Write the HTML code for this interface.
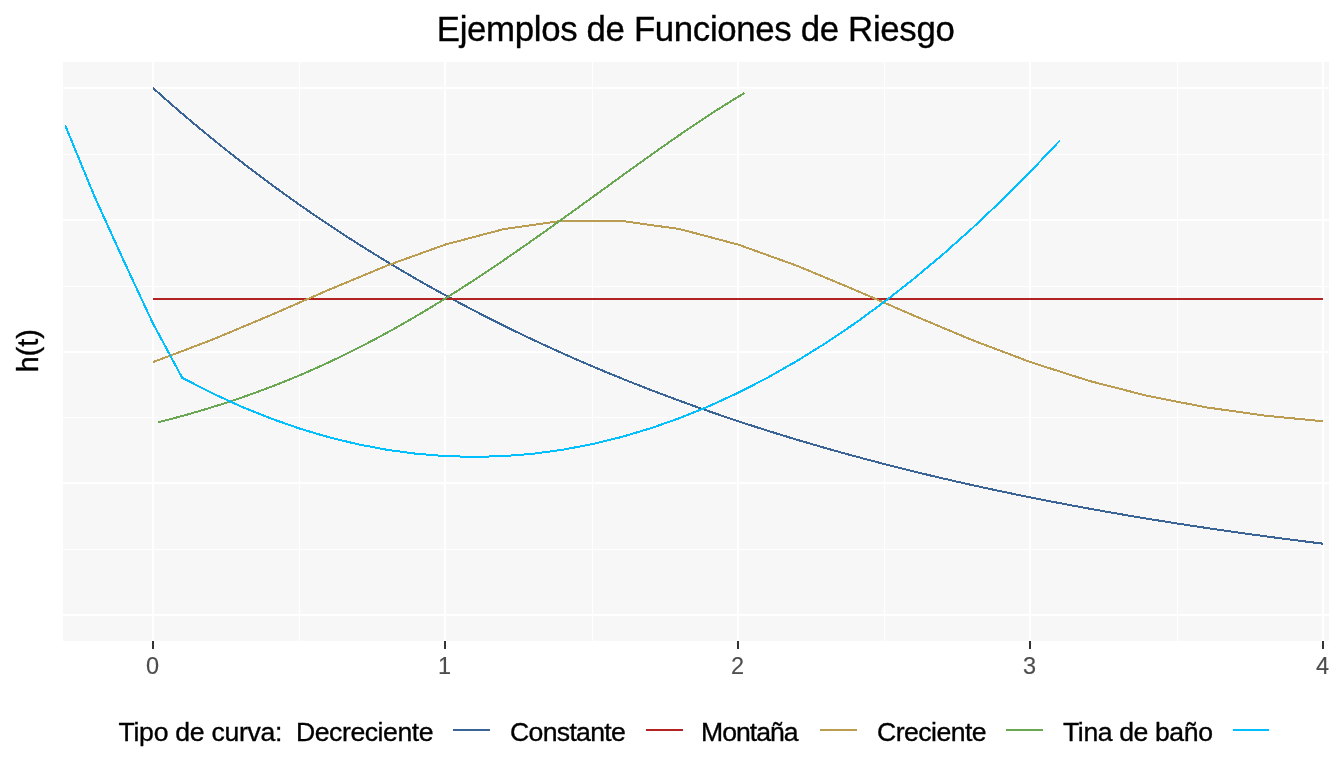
<!DOCTYPE html>
<html lang="es"><head><meta charset="utf-8"><title>Ejemplos de Funciones de Riesgo</title>
<style>
html,body{margin:0;padding:0;background:#fff;width:1344px;height:768px;overflow:hidden}
svg{display:block}
text{font-family:"Liberation Sans",Arial,sans-serif;stroke:currentColor;stroke-width:0.35px}
</style></head>
<body>
<svg width="1344" height="768" viewBox="0 0 1344 768">
<rect x="0" y="0" width="1344" height="768" fill="#FFFFFF"/>
<rect x="63" y="62" width="1266" height="579" fill="#F7F7F7"/>
<g shape-rendering="crispEdges">
<rect x="299" y="62" width="1" height="579" fill="#FFFFFF"/>
<rect x="592" y="62" width="1" height="579" fill="#FFFFFF"/>
<rect x="884" y="62" width="1" height="579" fill="#FFFFFF"/>
<rect x="1177" y="62" width="1" height="579" fill="#FFFFFF"/>
<rect x="63" y="154" width="1266" height="1" fill="#FFFFFF"/>
<rect x="63" y="286" width="1266" height="1" fill="#FFFFFF"/>
<rect x="63" y="417" width="1266" height="1" fill="#FFFFFF"/>
<rect x="63" y="549" width="1266" height="1" fill="#FFFFFF"/>
<rect x="152" y="62" width="2" height="579" fill="#FFFFFF"/>
<rect x="444" y="62" width="2" height="579" fill="#FFFFFF"/>
<rect x="737" y="62" width="2" height="579" fill="#FFFFFF"/>
<rect x="1029" y="62" width="2" height="579" fill="#FFFFFF"/>
<rect x="1322" y="62" width="2" height="579" fill="#FFFFFF"/>
<rect x="63" y="87" width="1266" height="2" fill="#FFFFFF"/>
<rect x="63" y="219" width="1266" height="2" fill="#FFFFFF"/>
<rect x="63" y="351" width="1266" height="2" fill="#FFFFFF"/>
<rect x="63" y="482" width="1266" height="2" fill="#FFFFFF"/>
<rect x="63" y="614" width="1266" height="2" fill="#FFFFFF"/>
</g>
<svg x="63" y="62" width="1266" height="579" viewBox="63 62 1266 579" overflow="hidden">
<g shape-rendering="crispEdges">
<polyline points="153.00,88.00 167.62,101.01 182.25,113.70 196.88,126.08 211.50,138.15 226.12,149.92 240.75,161.41 255.38,172.61 270.00,183.53 284.62,194.18 299.25,204.57 313.88,214.71 328.50,224.59 343.12,234.23 357.75,243.63 372.38,252.80 387.00,261.74 401.62,270.46 416.25,278.97 430.88,287.27 445.50,295.36 460.12,303.25 474.75,310.95 489.38,318.45 504.00,325.78 518.62,332.92 533.25,339.88 547.88,346.67 562.50,353.30 577.12,359.76 591.75,366.06 606.38,372.21 621.00,378.20 635.62,384.05 650.25,389.75 664.88,395.31 679.50,400.74 694.12,406.03 708.75,411.19 723.38,416.22 738.00,421.13 752.62,425.91 767.25,430.58 781.88,435.14 796.50,439.58 811.12,443.91 825.75,448.13 840.38,452.25 855.00,456.27 869.62,460.19 884.25,464.01 898.88,467.74 913.50,471.38 928.12,474.92 942.75,478.38 957.38,481.75 972.00,485.04 986.62,488.25 1001.25,491.38 1015.88,494.43 1030.50,497.41 1045.12,500.31 1059.75,503.15 1074.38,505.91 1089.00,508.60 1103.62,511.23 1118.25,513.79 1132.88,516.29 1147.50,518.73 1162.12,521.10 1176.75,523.42 1191.38,525.68 1206.00,527.89 1220.62,530.04 1235.25,532.14 1249.88,534.18 1264.50,536.18 1279.12,538.12 1293.75,540.02 1308.38,541.87 1323.00,543.68" fill="none" stroke="#3A6496" stroke-width="2"/>
<polyline points="153.00,298.80 1323.00,298.80" fill="none" stroke="#B22222" stroke-width="2"/>
<polyline points="153.00,362.11 211.50,340.00 270.00,315.44 328.50,289.95 387.00,265.56 445.50,244.52 504.00,229.03 562.50,220.80 621.00,220.80 679.50,229.03 738.00,244.52 796.50,265.56 855.00,289.95 913.50,315.44 972.00,340.00 1030.50,362.11 1089.00,380.85 1147.50,395.88 1206.00,407.31 1264.50,415.58 1323.00,421.29" fill="none" stroke="#BB9D52" stroke-width="2"/>
<polyline points="158.10,422.32 168.04,419.76 177.98,417.11 187.93,414.36 197.87,411.50 207.81,408.54 217.75,405.46 227.70,402.26 237.64,398.94 247.58,395.50 257.52,391.92 267.47,388.21 277.41,384.37 287.35,380.39 297.29,376.27 307.24,372.01 317.18,367.61 327.12,363.07 337.06,358.38 347.01,353.56 356.95,348.59 366.89,343.48 376.83,338.23 386.77,332.84 396.72,327.32 406.66,321.67 416.60,315.88 426.54,309.97 436.49,303.94 446.43,297.78 456.37,291.51 466.31,285.13 476.26,278.64 486.20,272.06 496.14,265.38 506.08,258.61 516.03,251.76 525.97,244.84 535.91,237.85 545.85,230.80 555.79,223.70 565.74,216.56 575.68,209.39 585.62,202.19 595.56,194.98 605.51,187.76 615.45,180.55 625.39,173.36 635.33,166.20 645.28,159.07 655.22,152.00 665.16,144.99 675.10,138.06 685.05,131.22 694.99,124.48 704.93,117.86 714.87,111.37 724.82,105.03 734.76,98.85 744.70,92.85" fill="none" stroke="#69A752" stroke-width="2"/>
<polyline points="65.25,125.50 94.50,196.50 123.75,260.80 153.00,323.50 182.25,377.85 211.50,392.87 240.75,406.31 270.00,418.17 299.25,428.44 328.50,437.14 357.75,444.25 387.00,449.79 416.25,453.74 445.50,456.11 474.75,456.90 504.00,456.11 533.25,453.74 562.50,449.79 591.75,444.25 621.00,437.14 650.25,428.44 679.50,418.17 708.75,406.31 738.00,392.87 767.25,377.85 796.50,361.25 825.75,343.07 855.00,323.31 884.25,301.96 913.50,279.04 942.75,254.53 972.00,228.45 1001.25,200.78 1030.50,171.53 1059.75,140.70" fill="none" stroke="#00BFFF" stroke-width="2"/>
</g>
</svg>
<g shape-rendering="crispEdges">
<rect x="152" y="641" width="2" height="8" fill="#333333"/>
<rect x="444" y="641" width="2" height="8" fill="#333333"/>
<rect x="737" y="641" width="2" height="8" fill="#333333"/>
<rect x="1029" y="641" width="2" height="8" fill="#333333"/>
<rect x="1322" y="641" width="2" height="8" fill="#333333"/>
</g>
<text x="436.80" y="40.70" style="font-size:34.8px;color:#000000" fill="#000000" textLength="517.96" lengthAdjust="spacing">Ejemplos de Funciones de Riesgo</text>
<text transform="translate(38.00,372.20) rotate(-90)" style="font-size:28.6px;color:#000000" fill="#000000">h(t)</text>
<text x="146.00" y="674.00" style="font-size:23.5px;color:#4D4D4D;stroke-width:0.15px" fill="#4D4D4D">0</text>
<text x="438.00" y="674.00" style="font-size:23.5px;color:#4D4D4D;stroke-width:0.15px" fill="#4D4D4D">1</text>
<text x="731.00" y="674.00" style="font-size:23.5px;color:#4D4D4D;stroke-width:0.15px" fill="#4D4D4D">2</text>
<text x="1023.00" y="674.00" style="font-size:23.5px;color:#4D4D4D;stroke-width:0.15px" fill="#4D4D4D">3</text>
<text x="1316.00" y="674.00" style="font-size:23.5px;color:#4D4D4D;stroke-width:0.15px" fill="#4D4D4D">4</text>
<text x="118.50" y="741.00" style="font-size:26.6px;color:#000000" fill="#000000" textLength="163.93" lengthAdjust="spacing">Tipo de curva:</text>
<text x="296.00" y="741.00" style="font-size:26.6px;color:#000000" fill="#000000" textLength="137.51" lengthAdjust="spacing">Decreciente</text>
<text x="510.00" y="741.00" style="font-size:26.6px;color:#000000" fill="#000000" textLength="115.83" lengthAdjust="spacing">Constante</text>
<text x="701.00" y="741.00" style="font-size:26.6px;color:#000000" fill="#000000" textLength="97.60" lengthAdjust="spacing">Montaña</text>
<text x="877.00" y="741.00" style="font-size:26.6px;color:#000000" fill="#000000" textLength="109.63" lengthAdjust="spacing">Creciente</text>
<text x="1063.00" y="741.00" style="font-size:26.6px;color:#000000" fill="#000000" textLength="149.97" lengthAdjust="spacing">Tina de baño</text>
<g shape-rendering="crispEdges">
<rect x="453" y="729" width="37" height="2" fill="#3A6496"/>
<rect x="646" y="729" width="37" height="2" fill="#B22222"/>
<rect x="820" y="729" width="37" height="2" fill="#BB9D52"/>
<rect x="1006" y="729" width="37" height="2" fill="#69A752"/>
<rect x="1233" y="729" width="36" height="2" fill="#00BFFF"/>
</g>
</svg>
</body></html>
